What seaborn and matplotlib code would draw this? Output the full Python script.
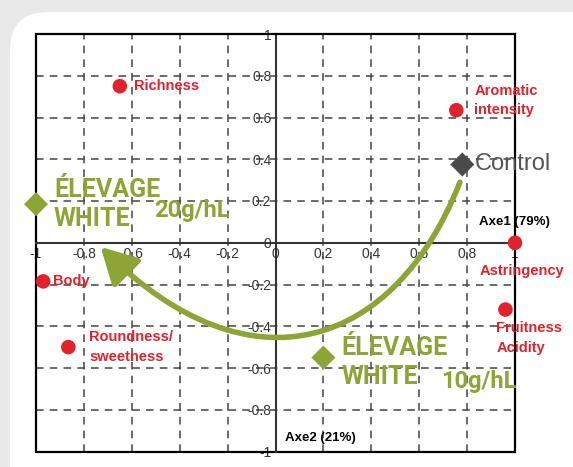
import matplotlib
matplotlib.use("Agg")
import matplotlib.pyplot as plt
import seaborn as sns
from matplotlib.patches import FancyBboxPatch, FancyArrowPatch
from matplotlib.path import Path

# sensory attributes (loadings)
attr_names = ["Richness", "Aromatic\nintensity", "Astringency", "Fruitness\nAcidity", "Body", "Roundness/\nsweetness"]
attr_x = [-0.65, 0.755, 1.0, 0.96, -0.97, -0.865]
attr_y = [0.75, 0.635, 0.0, -0.32, -0.185, -0.50]

# samples
sample_names = ["Control", "ELEVAGE 20", "ELEVAGE 10"]
sample_x = [0.78, -1.0, 0.20]
sample_y = [0.375, 0.185, -0.55]

# arrow (20 -> 10 g/hL shift), cubic bezier control points
arrow_pts = [(0.77, 0.29), (0.50, -0.50), (-0.10, -0.74), (-0.73, -0.02)]

ticks = [-1, -0.8, -0.6, -0.4, -0.2, 0, 0.2, 0.4, 0.6, 0.8, 1]
tick_labels = ["-1", "-0.8", "-0.6", "-0.4", "-0.2", "0", "0.2", "0.4", "0.6", "0.8", "1"]

RED = "#e0222c"
GREEN = "#8fa436"
DARK = "#4a4a4a"

sns.set_theme(style="white")
plt.rcParams["font.family"] = ["Liberation Sans", "DejaVu Sans"]
NARROW = ["Liberation Sans Narrow", "Roboto", "DejaVu Sans"]

fig = plt.figure(figsize=(5.73, 4.67), dpi=100)
fig.patch.set_facecolor("#e9e9e9")
panel = FancyBboxPatch((0.10, -0.6), 6.0, 5.15, boxstyle="round,pad=0,rounding_size=0.38",
                       transform=fig.dpi_scale_trans, facecolor="white", edgecolor="none", zorder=-5)
fig.patches.append(panel)

ax = fig.add_axes([36 / 573, 1 - 451.5 / 467, 479 / 573, 417.5 / 467])
ax.set_zorder(1)
ax.set_facecolor("none")
ax.set_xlim(-1, 1)
ax.set_ylim(-1, 1)

# centred axes + box frame
ax.spines["left"].set_position(("data", 0))
ax.spines["bottom"].set_position(("data", 0))
for s in ["left", "bottom"]:
    ax.spines[s].set_color("#333333")
    ax.spines[s].set_linewidth(1.5)
for s in ["top", "right"]:
    ax.spines[s].set_color("black")
    ax.spines[s].set_linewidth(1.6)
ax.axvline(-1, color="black", lw=1.6, clip_on=False)
ax.axhline(-1, color="black", lw=1.6, clip_on=False)

ax.set_xticks(ticks)
ax.set_xticklabels(tick_labels)
ax.set_yticks(ticks)
ax.set_yticklabels(tick_labels)
ax.tick_params(axis="both", direction="inout", length=5, width=1, color="#333333",
               labelsize=10, labelcolor="#333333", pad=0.5)
ax.grid(True, ls=(0, (5, 4)), color="#444444", lw=1.1)

sns.scatterplot(x=attr_x, y=attr_y, color=RED, s=110, edgecolor="none", ax=ax, zorder=6, clip_on=False)
sns.scatterplot(x=sample_x, y=sample_y, hue=sample_names, palette=[DARK, GREEN, GREEN],
                marker="D", s=150, edgecolor="none", legend=False, ax=ax, zorder=6, clip_on=False)

# attribute labels: (dx, dy) in points, ha
attr_offsets = [(10, 0, "left"), (13, 7, "left"), (5, -20, "center"),
                (-6.5, -20.5, "left"), (7, 0, "left"), (15, 0, "left")]
for name, x, y, (dx, dy, ha) in zip(attr_names, attr_x, attr_y, attr_offsets):
    ax.annotate(name, (x, y), xytext=(dx, dy), textcoords="offset points", ha=ha, va="center",
                color=RED, fontsize=10.5, fontweight="bold", linespacing=1.5, zorder=7)

ax.annotate("Control", (sample_x[0], sample_y[0]), xytext=(9, 0), textcoords="offset points",
            ha="left", va="center", color="#555555", fontsize=17, zorder=7)

for i, dy in [(1, 0), (2, -3.5)]:
    ax.annotate("ÉLEVAGE\nWHITE", (sample_x[i], sample_y[i]), xytext=(13, dy), textcoords="offset points",
                ha="left", va="center", color=GREEN, fontsize=18, fontweight="bold", family=NARROW,
                linespacing=1.25, zorder=7)
ax.annotate("20g/hL", (sample_x[1], sample_y[1]), xytext=(85, -4.5), textcoords="offset points",
            ha="left", va="center", color=GREEN, fontsize=17, fontweight="bold", family=NARROW, zorder=7)
ax.annotate("10g/hL", (sample_x[2], sample_y[2]), xytext=(85, -17.5), textcoords="offset points",
            ha="left", va="center", color=GREEN, fontsize=17, fontweight="bold", family=NARROW, zorder=7)

ax.text(0.85, 0.10, "Axe1 (79%)", ha="left", va="center", fontsize=9.5, fontweight="bold", color="black")
ax.text(0.04, -0.935, "Axe2 (21%)", ha="left", va="center", fontsize=9.5, fontweight="bold", color="black")

arrow_path = Path(arrow_pts, [Path.MOVETO, Path.CURVE4, Path.CURVE4, Path.CURVE4])
arrow = FancyArrowPatch(path=arrow_path, arrowstyle="-|>,head_length=1.1,head_width=0.6",
                        mutation_scale=20, lw=4, color=GREEN, zorder=5)
ax.add_patch(arrow)

fig.savefig("out.png", dpi=100)
